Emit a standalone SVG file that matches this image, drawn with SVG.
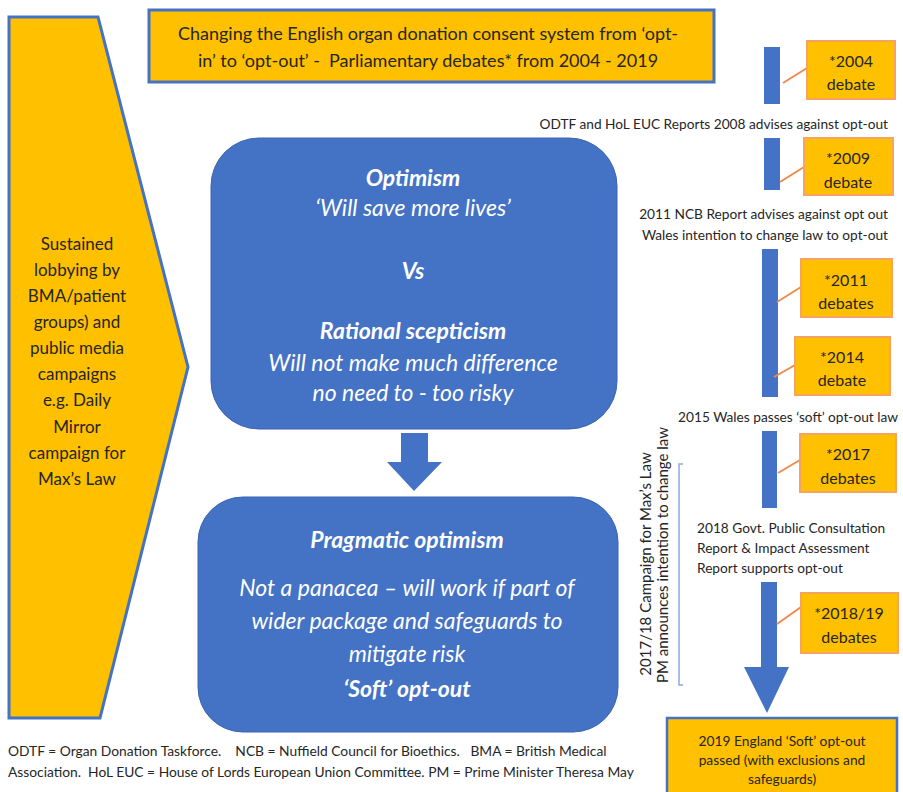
<svg xmlns="http://www.w3.org/2000/svg" width="903" height="792" viewBox="0 0 903 792">
<style>
text{font-family:Lato,"Liberation Sans",sans-serif;fill:#262626;dominant-baseline:central;white-space:pre}
.c{text-anchor:middle}
.e{text-anchor:end}
.w{fill:#ffffff;font-style:italic;text-anchor:middle}
.b{font-weight:bold}
.yl{fill:#FFC000;stroke:#4472C4;stroke-width:3}
.db{fill:#FFC000;stroke:#F4A460;stroke-width:2}
.bl{fill:#4472C4;stroke:#3A64B0;stroke-width:1}
.bar{fill:#4472C4}
.ld{stroke:#F08A4B;stroke-width:2;fill:none}
</style>
<g id="lobby">
<polygon class="yl" points="9,17 98,17 188,367 100,718 9,718"/>
<g font-size="17">
<text class="c" x="77" y="243">Sustained</text>
<text class="c" x="77" y="269">lobbying by</text>
<text class="c" x="77" y="295">BMA/patient</text>
<text class="c" x="77" y="321">groups) and</text>
<text class="c" x="77" y="347">public media</text>
<text class="c" x="77" y="373">campaigns</text>
<text class="c" x="77" y="399">e.g. Daily</text>
<text class="c" x="77" y="426">Mirror</text>
<text class="c" x="77" y="452">campaign for</text>
<text class="c" x="77" y="478">Max’s Law</text>
</g>
</g>
<g id="title">
<rect class="yl" x="149" y="10" width="565" height="72" stroke-width="2.5"/>
<text class="c" x="428" y="33" font-size="18">Changing the English organ donation consent system from ‘opt-</text>
<text class="c" x="428" y="60" font-size="18">in’ to ‘opt-out’ -  Parliamentary debates* from 2004 - 2019</text>
</g>
<g id="debate-box">
<rect class="bl" x="211" y="138" width="406" height="291" rx="48"/>
<g font-size="23">
<text class="w b" x="413" y="177">Optimism</text>
<text class="w" x="413" y="207">‘Will save more lives’</text>
<text class="w b" x="413" y="270">Vs</text>
<text class="w b" x="413" y="330">Rational scepticism</text>
<text class="w" x="413" y="362">Will not make much difference</text>
<text class="w" x="413" y="392">no need to - too risky</text>
</g>
</g>
<g id="pragmatic-box">
<rect class="bl" x="198" y="497" width="420" height="235" rx="45"/>
<g font-size="23">
<text class="w b" x="407" y="539">Pragmatic optimism</text>
<text class="w" x="407" y="587">Not a panacea – will work if part of</text>
<text class="w" x="407" y="620">wider package and safeguards to</text>
<text class="w" x="407" y="653">mitigate risk</text>
<text class="w b" x="407" y="688">‘Soft’ opt-out</text>
</g>
</g>
<g id="connectors">
<polygon class="bar" points="401,433 428,433 428,462 442,462 414,491 387,462 401,462"/>
<rect class="bar" x="764" y="47" width="16" height="57"/>
<rect class="bar" x="764" y="138" width="16" height="52"/>
<rect class="bar" x="762" y="249" width="16" height="148"/>
<rect class="bar" x="762" y="431" width="15" height="77"/>
<polygon class="bar" points="761,582 777,582 777,667 789,667 767,713 744,667 761,667"/>
<line class="ld" x1="783" y1="83" x2="807" y2="68"/>
<line class="ld" x1="780" y1="182" x2="804" y2="167"/>
<line class="ld" x1="777" y1="302" x2="801" y2="287"/>
<line class="ld" x1="774" y1="377" x2="795" y2="365"/>
<line class="ld" x1="778" y1="473" x2="800" y2="460"/>
<line class="ld" x1="777" y1="624" x2="801" y2="607"/>
<polyline points="683,464 679,464 679,685 683,685" fill="none" stroke="#8FAADC" stroke-width="1.5"/>
</g>
<g id="d2004"><rect class="db" x="807" y="41" width="88" height="58"/><text class="c" x="851" y="60" font-size="16">*2004</text><text class="c" x="851" y="83" font-size="16">debate</text></g>
<g id="d2009"><rect class="db" x="804" y="138" width="89" height="57"/><text class="c" x="848" y="157" font-size="16">*2009</text><text class="c" x="848" y="181" font-size="16">debate</text></g>
<g id="d2011"><rect class="db" x="801" y="259" width="91" height="58"/><text class="c" x="846" y="279" font-size="16">*2011</text><text class="c" x="846" y="302" font-size="16">debates</text></g>
<g id="d2014"><rect class="db" x="795" y="337" width="95" height="58"/><text class="c" x="842" y="356" font-size="16">*2014</text><text class="c" x="842" y="379" font-size="16">debate</text></g>
<g id="d2017"><rect class="db" x="800" y="434" width="96" height="58"/><text class="c" x="848" y="453" font-size="16">*2017</text><text class="c" x="848" y="477" font-size="16">debates</text></g>
<g id="d2018"><rect class="db" x="801" y="593" width="97" height="60"/><text class="c" x="849" y="612" font-size="16">*2018/19</text><text class="c" x="849" y="636" font-size="16">debates</text></g>
<g id="events" font-size="13.7">
<text class="e" x="888" y="123">ODTF and HoL EUC Reports 2008 advises against opt-out</text>
<text class="e" x="888" y="213">2011 NCB Report advises against opt out</text>
<text class="e" x="888" y="234">Wales intention to change law to opt-out</text>
<text class="e" x="898" y="416">2015 Wales passes ‘soft’ opt-out law</text>
<text x="697" y="527">2018 Govt. Public Consultation</text>
<text x="697" y="547">Report &amp; Impact Assessment</text>
<text x="697" y="567">Report supports opt-out</text>
</g>
<g id="campaign" font-size="15">
<text class="c" transform="translate(645,564) rotate(-90)">2017/18 Campaign for Max’s Law</text>
<text class="c" transform="translate(662,555) rotate(-90)">PM announces intention to change law</text>
</g>
<g id="result">
<rect x="667" y="718" width="230" height="80" fill="#FFC000" stroke="#4472C4" stroke-width="2.5"/>
<g font-size="13.8">
<text class="c" x="782" y="740">2019 England ‘Soft’ opt-out</text>
<text class="c" x="782" y="759">passed (with exclusions and</text>
<text class="c" x="782" y="778">safeguards)</text>
</g>
</g>
<g id="footer" font-size="13.8">
<text x="8" y="750">ODTF = Organ Donation Taskforce.    NCB = Nuffield Council for Bioethics.   BMA = British Medical</text>
<text x="8" y="771">Association.  HoL EUC = House of Lords European Union Committee. PM = Prime Minister Theresa May</text>
</g>
</svg>
